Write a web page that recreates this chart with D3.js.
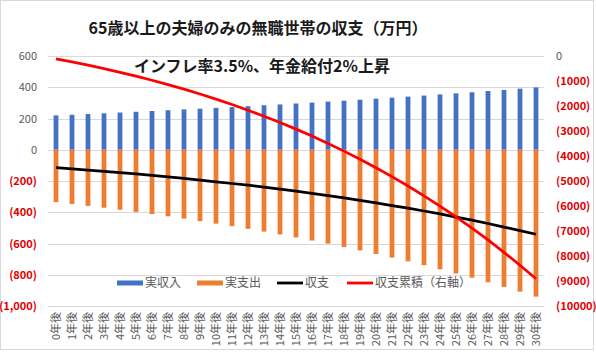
<!DOCTYPE html>
<html>
<head>
<meta charset="utf-8">
<script src="https://cdn.jsdelivr.net/npm/d3@7"></script>
<style>
  body { margin: 0; background: #fff; }
  text { font-family: "Noto Sans CJK JP", "Noto Sans", sans-serif; }
</style>
</head>
<body>
<div id="chart"></div>
<script>
// chart data (万円)
const years = d3.range(0, 31).map(function(i) { return i + "年後"; });
const income = [220, 224, 229, 233, 238, 243, 248, 253, 258, 263, 268, 273, 279, 285, 290, 296,
  302, 308, 314, 320, 327, 333, 340, 347, 354, 361, 368, 376, 383, 391, 399];
const expense = [-335, -347, -359, -371, -384, -398, -412, -426, -441, -457, -473, -489, -506, -524, -542, -561,
  -581, -601, -622, -644, -667, -690, -714, -739, -765, -792, -819, -848, -878, -908, -940];
const balance = [-115, -123, -130, -138, -146, -155, -164, -173, -183, -194, -205, -216, -227, -239, -252, -265,
  -279, -293, -308, -324, -340, -357, -374, -392, -411, -431, -451, -472, -495, -517, -541];
const cumulative = [-115, -238, -368, -506, -652, -807, -971, -1144, -1327, -1521, -1726, -1942, -2169, -2408, -2660, -2925,
  -3204, -3497, -3805, -4129, -4469, -4826, -5200, -5592, -6003, -6434, -6885, -7357, -7852, -8369, -8910];
const leftTicks = [600, 400, 200, 0, -200, -400, -600, -800, -1000];
const rightTicks = [0, -1000, -2000, -3000, -4000, -5000, -6000, -7000, -8000, -9000, -10000];
const legendItems = [
  {name: "実収入", color: "#4472c4", type: "bar"},
  {name: "実支出", color: "#ed7d31", type: "bar"},
  {name: "収支", color: "#000000", type: "line"},
  {name: "収支累積（右軸）", color: "#ff0000", type: "line"}
];

const W = 596, H = 352;
const plot = {left: 48, right: 544, top: 56, bottom: 306};

const svg = d3.select("#chart").append("svg")
  .attr("width", W)
  .attr("height", H);

// outer frame
svg.append("rect")
  .attr("x", 0.5).attr("y", 0.5)
  .attr("width", W - 3).attr("height", H - 3)
  .attr("fill", "#fff")
  .attr("stroke", "#d9d9d9");

const x = d3.scaleBand()
  .domain(years)
  .range([plot.left, plot.right]);

const y = d3.scaleLinear()
  .domain([-1000, 600])
  .range([plot.bottom, plot.top]);

const y2 = d3.scaleLinear()
  .domain([-10000, 0])
  .range([plot.bottom, plot.top]);

const negColor = "#e00000", posColor = "#595959";
const fmtLeft = function(v) { return v < 0 ? "(" + d3.format(",")(-v) + ")" : d3.format(",")(v); };
const fmtRight = function(v) { return v < 0 ? "(" + (-v) + ")" : String(v); };

// gridlines
svg.append("g")
  .selectAll("line")
  .data(leftTicks)
  .join("line")
    .attr("x1", plot.left).attr("x2", plot.right)
    .attr("y1", function(d) { return Math.round(y(d)) + 0.5; })
    .attr("y2", function(d) { return Math.round(y(d)) + 0.5; })
    .attr("stroke", "#d9d9d9")
    .attr("stroke-width", 1);

// left axis
const yAxis = svg.append("g")
  .attr("transform", "translate(" + plot.left + ",0)")
  .call(d3.axisLeft(y).tickValues(leftTicks).tickFormat(fmtLeft).tickSize(0).tickPadding(11));
yAxis.select(".domain").remove();
yAxis.selectAll("text")
  .attr("font-size", 11)
  .attr("fill", function(d) { return d < 0 ? negColor : posColor; })
  .attr("font-weight", function(d) { return d < 0 ? "bold" : "normal"; });

// right axis
const y2Axis = svg.append("g")
  .attr("transform", "translate(" + plot.right + ",0)")
  .call(d3.axisRight(y2).tickValues(rightTicks).tickFormat(fmtRight).tickSize(0).tickPadding(12));
y2Axis.select(".domain").remove();
y2Axis.selectAll("text")
  .attr("font-size", 11)
  .attr("fill", function(d) { return d < 0 ? negColor : posColor; })
  .attr("font-weight", function(d) { return d < 0 ? "bold" : "normal"; });

// x axis
const xAxis = svg.append("g")
  .attr("transform", "translate(0," + plot.bottom + ")")
  .call(d3.axisBottom(x).tickSize(0).tickPadding(0));
xAxis.select(".domain").remove();
xAxis.selectAll("text")
  .attr("font-size", 11)
  .attr("fill", posColor)
  .attr("transform", "rotate(-90)")
  .attr("text-anchor", "end")
  .attr("x", -6)
  .attr("y", 0)
  .attr("dy", "0.35em");

const barW = x.bandwidth() * 0.3;

// bars
svg.append("g")
  .selectAll("rect")
  .data(income)
  .join("rect")
    .attr("x", function(d, i) { return x(years[i]) + (x.bandwidth() - barW) / 2; })
    .attr("y", function(d) { return y(d); })
    .attr("width", barW)
    .attr("height", function(d) { return y(0) - y(d); })
    .attr("fill", "#4472c4");

svg.append("g")
  .selectAll("rect")
  .data(expense)
  .join("rect")
    .attr("x", function(d, i) { return x(years[i]) + (x.bandwidth() - barW) / 2; })
    .attr("y", y(0))
    .attr("width", barW)
    .attr("height", function(d) { return y(d) - y(0); })
    .attr("fill", "#ed7d31");

const cx = function(d, i) { return x(years[i]) + x.bandwidth() / 2; };

// balance line
svg.append("path")
  .datum(balance)
  .attr("fill", "none")
  .attr("stroke", "#000")
  .attr("stroke-width", 2.75)
  .attr("d", d3.line().x(cx).y(function(d) { return y(d); }));

// cumulative line (right axis)
svg.append("path")
  .datum(cumulative)
  .attr("fill", "none")
  .attr("stroke", "#ff0000")
  .attr("stroke-width", 2.75)
  .attr("d", d3.line().x(cx).y(function(d) { return y2(d); }));

// title
const title = svg.append("g")
  .attr("font-weight", "bold")
  .attr("font-size", 16)
  .attr("fill", "#1a1a1a")
  .attr("text-anchor", "middle");
title.append("text").attr("x", 258).attr("y", 34).text("65歳以上の夫婦のみの無職世帯の収支（万円）");
title.append("text").attr("x", 262).attr("y", 72).text("インフレ率3.5%、年金給付2%上昇");

// legend
const legendX = [117, 197, 277, 347];
const legend = svg.append("g")
  .selectAll("g")
  .data(legendItems)
  .join("g")
    .attr("transform", function(d, i) { return "translate(" + legendX[i] + ",283)"; });
legend.append("rect")
  .attr("x", 0)
  .attr("y", function(d) { return d.type === "bar" ? -2.5 : -1.4; })
  .attr("width", 26)
  .attr("height", function(d) { return d.type === "bar" ? 5 : 2.8; })
  .attr("fill", function(d) { return d.color; });
legend.append("text")
  .attr("x", 28)
  .attr("dy", "0.36em")
  .attr("font-size", 12)
  .attr("fill", posColor)
  .text(function(d) { return d.name; });
</script>
</body>
</html>
